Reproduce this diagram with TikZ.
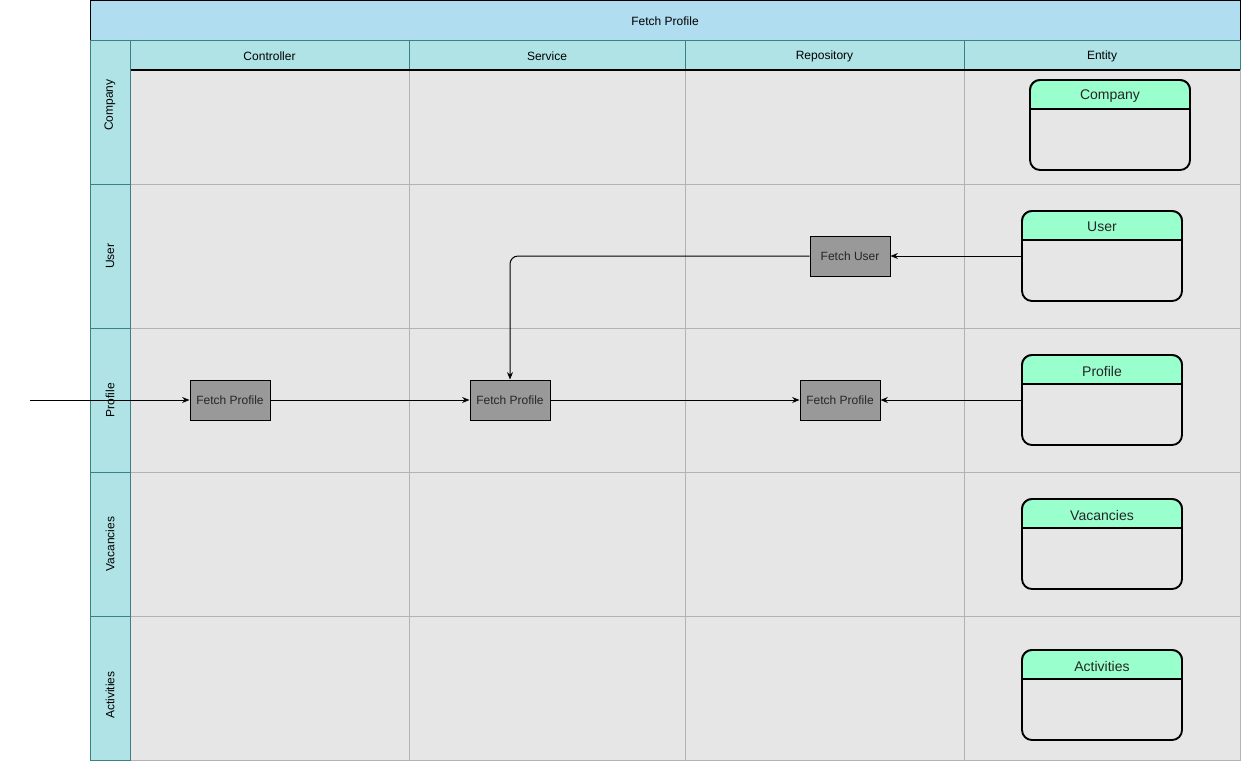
\documentclass[tikz,border=0pt]{standalone}
\usepackage{fontspec}
\setmainfont{Liberation Sans}
\usetikzlibrary{arrows,arrows.meta,positioning,shapes,calc}
\definecolor{titleblue}{HTML}{B1DDF0}
\definecolor{lanecol}{HTML}{B0E3E6}
\definecolor{laneline}{HTML}{0E8088}
\definecolor{cellgray}{HTML}{E6E6E6}
\definecolor{gridgray}{HTML}{B3B3B3}
\definecolor{boxgray}{HTML}{999999}
\definecolor{entgreen}{HTML}{99FFCC}

\begin{document}
\begin{tikzpicture}[
		x=0.75pt,y=-0.75pt,
		>={Stealth[length=5.5pt,width=4.5pt]},
		font=\fontsize{9}{11}\selectfont,
		lanehead/.style={
			fill=lanecol,
			draw=laneline!60!gray,
			line width=0.6pt
		},
		cell/.style={
			fill=cellgray,
			draw=gridgray,
			line width=0.75pt
		},
		process/.style={
			draw=black,
			fill=boxgray,
			line width=0.75pt,
			minimum width=60pt,
			minimum height=30pt,
			inner sep=1pt,
			text=black!85
		},
		entity/.style={
			draw=black,
			fill=cellgray,
			line width=1.4pt,
			rounded corners=7.5pt,
			minimum width=120pt,
			minimum height=67.5pt
		},
		flow/.style={
			->,
			line width=0.75pt
		}
		]
		\useasboundingbox (0,0) rectangle (1241,761);
		% pool title
		\draw[fill=titleblue,line width=0.75pt] (90,0) rectangle (1240,40);
		\node (title) at (665,21) {Fetch Profile};
		% column headers and cells
		\foreach \xa/\xb/\col in {130/409/Controller,409/685/Service,685/964/Repository,964/1240/Entity}{
			\draw[lanehead] (\xa,40) rectangle (\xb,70);
			\node (col-\col) at ({(\xa+\xb)/2},56) {\col};
			\foreach \ya/\yb in {70/184,184/328,328/472,472/616,616/760}
				\draw[cell] (\xa,\ya) rectangle (\xb,\yb);
		}
		\draw[line width=0.9pt] (130,70) -- (1240,70);
		% lane headers
		\foreach \ya/\yb/\ly/\lane in {40/184/105/Company,184/328/256/User,328/472/400/Profile,472/616/544/Vacancies,616/760/695/Activities}{
			\draw[lanehead] (90,\ya) rectangle (130,\yb);
			\node[rotate=90] (lane-\lane) at (110,\ly) {\lane};
		}
		% entities
		\foreach \name/\lab/\x/\y in {company/Company/1110/125,user/User/1102/256,profile/Profile/1102/400,vacancies/Vacancies/1102/544,activities/Activities/1102/695}{
			\node[entity] (\name) at (\x,\y) {};
			\begin{scope}
				\clip ($(\name.north west)+(-3,-3)$) rectangle ($(\name.north east)+(3,30)$);
				\node[entity,fill=entgreen] (\name-head) at (\x,\y) {};
			\end{scope}
			\draw[line width=1.4pt] ($(\name.north west)+(0,30)$) -- ($(\name.north east)+(0,30)$);
			\node[font=\fontsize{10.5}{12}\selectfont,text=black!85] (\name-lab) at ($(\name.north)+(0,17)$) {\lab};
		}
		% steps
		\node[process] (fp1) at (230,400) {Fetch Profile};
		\node[process] (fp2) at (510,400) {Fetch Profile};
		\node[process] (fp3) at (840,400) {Fetch Profile};
		\node[process] (fuser) at (850,256) {Fetch User};
		\coordinate (start) at (30,400);
		\draw[flow] (start) -- (fp1);
		\draw[flow] (fp1) -- (fp2);
		\draw[flow] (fp2) -- (fp3);
		\draw[flow] (profile.west) -- (fp3);
		\draw[flow] (user.west) -- (fuser);
		\draw[flow,rounded corners=6pt] (fuser.west) -| (fp2.north);
		\end{tikzpicture}
\end{document}
